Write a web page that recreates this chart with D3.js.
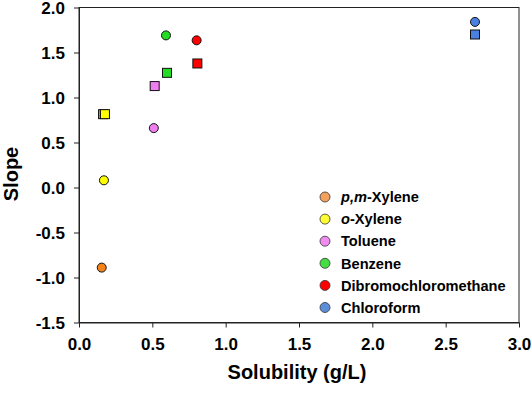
<!DOCTYPE html>
<html>
<head>
<meta charset="utf-8">
<script src="https://cdn.jsdelivr.net/npm/d3@7"></script>
<style>
  body { margin: 0; background: #fff; }
  text { font-family: Arial, "Liberation Sans", sans-serif; font-weight: bold; fill: #000; }
</style>
</head>
<body>
<script>
// compounds and their colours (plot / legend)
var compounds = ['p,m-Xylene', 'o-Xylene', 'Toluene', 'Benzene', 'Dibromochloromethane', 'Chloroform'];
var markColors = ['#F5831A', '#FFFF00', '#F07EF0', '#22DD22', '#FF0000', '#4A80E0'];
var legendColors = ['#F4A15D', '#FFFF33', '#F08CF0', '#44DD44', '#FF0000', '#5B8ED6'];

// circle series
var circleX = [0.155, 0.17, 0.51, 0.593, 0.802, 2.70];
var circleY = [-0.89, 0.08, 0.66, 1.69, 1.635, 1.84];

// square series
var squareX = [0.164, 0.177, 0.516, 0.60, 0.807, 2.70];
var squareY = [0.815, 0.815, 1.127, 1.274, 1.378, 1.70];

var xTicks = [0, 0.5, 1, 1.5, 2, 2.5, 3];
var yTicks = [-1.5, -1, -0.5, 0, 0.5, 1, 1.5, 2];

var margin = {top: 7.5, right: 12, bottom: 73.5, left: 79},
    w = 531 - margin.left - margin.right,
    h = 396 - margin.top - margin.bottom;

var svg = d3.select('body').append('svg')
    .attr('width', 531)
    .attr('height', 396);

var g = svg.append('g')
    .attr('transform', 'translate(' + margin.left + ',' + margin.top + ')');

var xScale = d3.scaleLinear().domain([0, 3]).range([0, w]);
var yScale = d3.scaleLinear().domain([-1.5, 2]).range([h, 0]);

// frame
g.append('rect')
  .attr('width', w)
  .attr('height', h)
  .attr('fill', 'none')
  .attr('stroke', '#222')
  .attr('stroke-width', 1);

// plain hyphen for negatives, like the original
var fmt = function (d) {
  return d3.format('.1f')(d).replace('\u2212', '-');
};

var xAxis = d3.axisBottom(xScale).tickValues(xTicks).tickSizeInner(5).tickSizeOuter(0)
    .tickPadding(10).tickFormat(fmt);
var yAxis = d3.axisLeft(yScale).tickValues(yTicks).tickSizeInner(5).tickSizeOuter(0)
    .tickPadding(9).tickFormat(fmt);

var gx = g.append('g')
  .attr('transform', 'translate(0,' + h + ')')
  .call(xAxis);
var gy = g.append('g').call(yAxis);

[gx, gy].forEach(function (a) {
  a.select('.domain').attr('stroke', '#222');
  a.selectAll('.tick line').attr('stroke', '#222');
  a.selectAll('.tick text')
    .attr('font-size', '17px')
    .attr('font-family', 'Arial, "Liberation Sans", sans-serif')
    .attr('font-weight', 'bold')
    .attr('fill', '#000');
});
gy.selectAll('.tick text').attr('dy', '0.36em');
gx.selectAll('.tick text').attr('dy', '0.71em');

// axis titles
svg.append('text')
  .attr('x', margin.left + w / 2 - 2)
  .attr('y', 379)
  .attr('text-anchor', 'middle')
  .attr('font-size', '20px')
  .text('Solubility (g/L)');

svg.append('text')
  .attr('transform', 'translate(18,174) rotate(-90)')
  .attr('text-anchor', 'middle')
  .attr('font-size', '20px')
  .text('Slope');

// squares
var sq = 9;
g.selectAll('rect.sq')
  .data(compounds)
  .enter()
  .append('rect')
  .attr('class', 'sq')
  .attr('x', function (d, i) { return xScale(squareX[i]) - sq / 2; })
  .attr('y', function (d, i) { return yScale(squareY[i]) - sq / 2; })
  .attr('width', sq)
  .attr('height', sq)
  .attr('fill', function (d, i) { return markColors[i]; })
  .attr('stroke', '#111')
  .attr('stroke-width', 1);

// circles
g.selectAll('circle.pt')
  .data(compounds)
  .enter()
  .append('circle')
  .attr('class', 'pt')
  .attr('cx', function (d, i) { return xScale(circleX[i]); })
  .attr('cy', function (d, i) { return yScale(circleY[i]); })
  .attr('r', 4.5)
  .attr('fill', function (d, i) { return markColors[i]; })
  .attr('stroke', '#111')
  .attr('stroke-width', 1);

// legend
var legend = svg.append('g').attr('transform', 'translate(325,197)');
var item = legend.selectAll('g')
  .data(compounds)
  .enter()
  .append('g')
  .attr('transform', function (d, i) { return 'translate(0,' + (i * 22.1) + ')'; });

item.append('circle')
  .attr('r', 5)
  .attr('fill', function (d, i) { return legendColors[i]; })
  .attr('stroke', '#333')
  .attr('stroke-width', 0.8);

var lt = item.append('text')
  .attr('x', 16)
  .attr('dy', '0.36em')
  .attr('font-size', '14.6px');

lt.each(function (d) {
  var t = d3.select(this);
  var m = d.match(/^([a-z,]+)(-.*)$/);
  if (m) {
    t.append('tspan').attr('font-style', 'italic').text(m[1]);
    t.append('tspan').text(m[2]);
  } else {
    t.text(d);
  }
});
</script>
</body>
</html>
